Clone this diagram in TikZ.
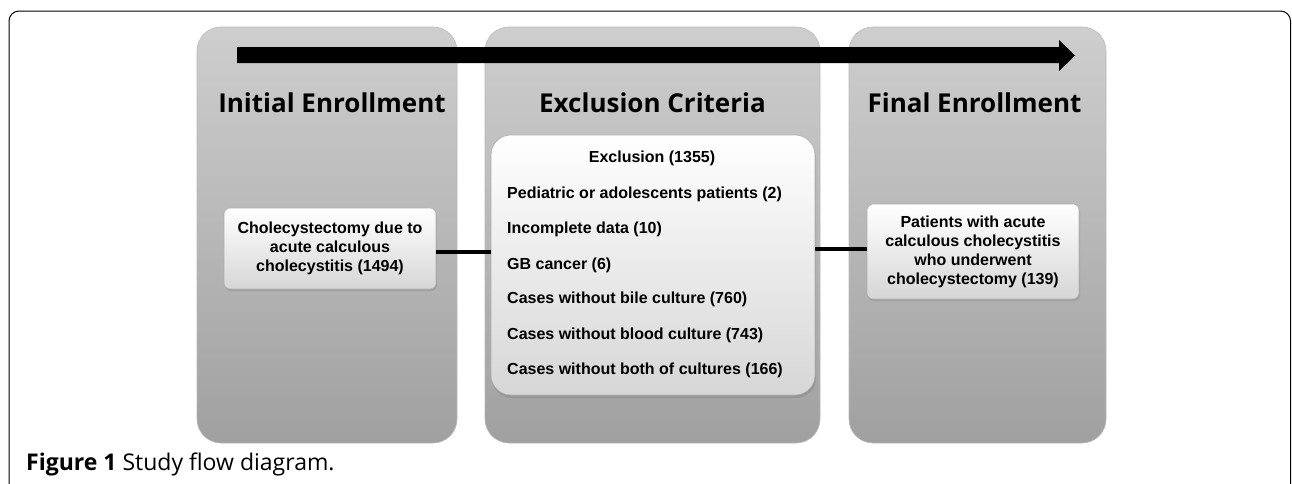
\documentclass[tikz,border=0pt]{standalone}
\usepackage{fontspec}
\setmainfont{Liberation Sans}
\newfontfamily\titlefont{Open Sans}
\newfontfamily\capfont{Open Sans}
\usetikzlibrary{shadows}
\definecolor{panelTop}{RGB}{206,206,206}
\definecolor{panelBot}{RGB}{160,160,160}
\definecolor{panelEdge}{RGB}{185,185,185}
\definecolor{boxBot}{RGB}{214,214,214}
\definecolor{boxEdge}{RGB}{175,175,175}
\begin{document}
\begin{tikzpicture}[x=1pt,y=-1pt,
  panel/.style={rounded corners=24pt, top color=panelTop, bottom color=panelBot,
    draw=panelEdge, line width=0.6pt, minimum height=416pt, inner sep=0pt},
  paneltitle/.style={anchor=base, inner sep=0pt, font=\titlefont\bfseries\fontsize{26}{30}\selectfont},
  smallbox/.style={rounded corners=6pt, top color=white, bottom color=boxBot,
    draw=boxEdge, line width=0.6pt, inner sep=0pt, align=center,
    font=\bfseries\fontsize{16}{19}\selectfont,
    drop shadow={opacity=0.35, shadow xshift=1pt, shadow yshift=-2pt}},
  bigbox/.style={rounded corners=20pt, top color=white, bottom color=boxBot,
    draw=boxEdge, line width=0.6pt, inner sep=0pt,
    drop shadow={opacity=0.4, shadow xshift=1pt, shadow yshift=-3pt}},
  exline/.style={anchor=base west, inner sep=0pt, font=\bfseries\fontsize{16}{19}\selectfont},
  link/.style={line width=4pt}]
\useasboundingbox (0,0) rectangle (1292,483);
% outer frame
\draw[line width=1pt, rounded corners=10pt] (9,500) -- (9,11) -- (1290.5,11) -- (1290.5,500);
% panels
\node[panel, minimum width=260pt] (p1) at (327,235) {};
\node[panel, minimum width=335pt] (p2) at (652.5,235) {};
\node[panel, minimum width=257pt] (p3) at (977.5,235) {};
% arrow
\fill (237,47) -- (1059,47) -- (1059,40) -- (1075,55.5) -- (1059,71) -- (1059,63) -- (237,63) -- cycle;
% titles
\node[paneltitle] (t1) at (332,112) {Initial Enrollment};
\node[paneltitle] (t2) at (652.5,112) {Exclusion Criteria};
\node[paneltitle] (t3) at (974.5,112) {Final Enrollment};
% boxes
\node[smallbox, minimum width=212pt, minimum height=81pt] (b1) at (330,248.5)
  {Cholecystectomy due to\\acute calculous\\cholecystitis (1494)};
\node[bigbox, minimum width=324pt, minimum height=260pt] (ex) at (653,265) {};
\node[smallbox, minimum width=212pt, minimum height=95pt] (b3) at (973,251.5)
  {Patients with acute\\calculous cholecystitis\\who underwent\\cholecystectomy (139)};
% exclusion texts
\node[anchor=base, inner sep=0pt, font=\bfseries\fontsize{16}{19}\selectfont] (e0) at (652,162) {Exclusion (1355)};
\node[exline] (e1) at (507,198) {Pediatric or adolescents patients (2)};
\node[exline] (e2) at (507,233) {Incomplete data (10)};
\node[exline] (e3) at (507,269) {GB cancer (6)};
\node[exline] (e4) at (507,303) {Cases without bile culture (760)};
\node[exline] (e5) at (507,339) {Cases without blood culture (743)};
\node[exline] (e6) at (507,374) {Cases without both of cultures (166)};
% connectors
\draw[link] (b1.east |- 0,252) -- (ex.west |- 0,252);
\draw[link] (ex.east |- 0,249) -- (b3.west |- 0,249);
% caption
\node[anchor=base west, inner sep=0pt, font=\capfont\fontsize{23}{26}\selectfont] (cap) at (26,470)
  {\textbf{Figure 1} Study flow diagram.};
\end{tikzpicture}
\end{document}
